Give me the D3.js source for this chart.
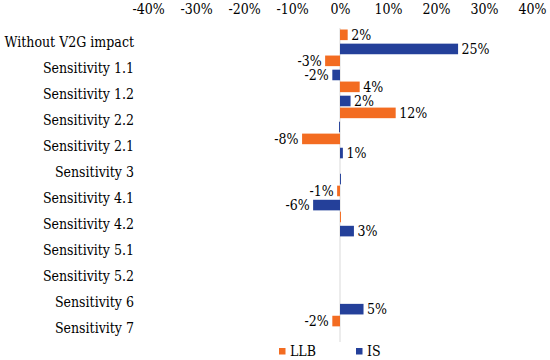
<!DOCTYPE html>
<html>
<head>
<meta charset="utf-8">
<script src="https://cdn.jsdelivr.net/npm/d3@7"></script>
<style>
    body { margin: 0; background: #fff; }
</style>
</head>
<body>
<div id="chart"></div>
<script>
(function()
{
    "use strict";

    // chart data
    var categories = ["Without V2G impact", "Sensitivity 1.1", "Sensitivity 1.2", "Sensitivity 2.2",
                      "Sensitivity 2.1", "Sensitivity 3", "Sensitivity 4.1", "Sensitivity 4.2",
                      "Sensitivity 5.1", "Sensitivity 5.2", "Sensitivity 6", "Sensitivity 7"];
    var seriesNames = ["LLB", "IS"];
    var llbValues = [1.6, -3.1, 4.1, 11.6, -7.9, 0, -0.6, 0.2, 0, 0, 0, -1.6];
    var isValues  = [24.6, -1.6, 2.2, -0.2, 0.6, 0.2, -5.6, 2.9, 0, 0, 4.9, 0];
    var xTicks = [-40, -30, -20, -10, 0, 10, 20, 30, 40];
    var colors = ["#F36C21", "#24409A"];

    var width = 550, height = 360;
    var fontFamily = "'DejaVu Serif Condensed', 'DejaVu Serif', serif";

    var svg = d3.select("#chart")
                .append("svg")
                .attr("width", width)
                .attr("height", height)
                .style("font-family", fontFamily)
                .style("font-stretch", "condensed")
                .style("font-size", "14px");

    // #########################################################################
    var xScale = d3.scaleLinear()
                   .domain([-40, 40])
                   .range([148, 532]);

    var yScale = d3.scaleBand()
                   .domain(categories)
                   .range([29, 341])
                   .paddingInner(0.05)
                   .paddingOuter(0.02);

    var ySub = d3.scaleBand()
                 .domain(seriesNames)
                 .range([0, yScale.bandwidth()])
                 .paddingInner(0.25);
    // #########################################################################

    var fmt = d3.formatLocale({ decimal: ".", thousands: ",", grouping: [3], currency: ["", ""], minus: "-" })
                .format(".0f");

    var xAxis = d3.axisTop(xScale)
                  .tickValues(xTicks)
                  .tickSize(0)
                  .tickPadding(0)
                  .tickFormat((d) => fmt(d) + "%");

    var gx = svg.append("g")
                .attr("transform", "translate(0,14)")
                .call(xAxis)
                .attr("font-family", null)
                .attr("font-size", null);
    gx.select(".domain").remove();
    gx.selectAll("text").attr("dy", 0).attr("fill", "#000");

    svg.append("g")
       .selectAll("text")
       .data(categories)
       .enter()
       .append("text")
       .attr("x", 134)
       .attr("y", (d) => yScale(d) + yScale.bandwidth() / 2)
       .attr("dy", "0.35em")
       .attr("text-anchor", "end")
       .text((d) => d);

    svg.append("line")
       .attr("x1", xScale(0))
       .attr("x2", xScale(0))
       .attr("y1", 28)
       .attr("y2", 342)
       .attr("stroke", "#D9D9D9");

    var rows = [];
    categories.forEach(function(cat, i) {
        rows.push({ cat: cat, series: "LLB", value: llbValues[i], color: colors[0] });
        rows.push({ cat: cat, series: "IS",  value: isValues[i],  color: colors[1] });
    });

    var bars = rows.filter((d) => d.value !== 0);

    svg.append("g")
       .selectAll("rect")
       .data(bars)
       .enter()
       .append("rect")
       .attr("x", (d) => xScale(Math.min(0, d.value)))
       .attr("y", (d) => yScale(d.cat) + ySub(d.series))
       .attr("width", (d) => Math.abs(xScale(d.value) - xScale(0)))
       .attr("height", ySub.bandwidth())
       .attr("fill", (d) => d.color);

    svg.append("g")
       .selectAll("text")
       .data(bars.filter((d) => Math.abs(d.value) >= 0.5))
       .enter()
       .append("text")
       .attr("x", (d) => d.value > 0 ? xScale(d.value) + 3.5 : xScale(d.value) - 3.5)
       .attr("y", (d) => yScale(d.cat) + ySub(d.series) + ySub.bandwidth() / 2)
       .attr("dy", "0.35em")
       .attr("text-anchor", (d) => d.value > 0 ? "start" : "end")
       .text((d) => fmt(d.value) + "%");

    var legend = svg.append("g")
                    .selectAll("g")
                    .data(seriesNames)
                    .enter()
                    .append("g")
                    .attr("transform", (d, i) => `translate(${279 + i * 77},348)`);

    legend.append("rect")
          .attr("width", 6.5)
          .attr("height", 6.5)
          .attr("fill", (d, i) => colors[i]);

    legend.append("text")
          .attr("x", 11)
          .attr("y", 3.5)
          .attr("dy", "0.35em")
          .text((d) => d);
}
)();
</script>
</body>
</html>
